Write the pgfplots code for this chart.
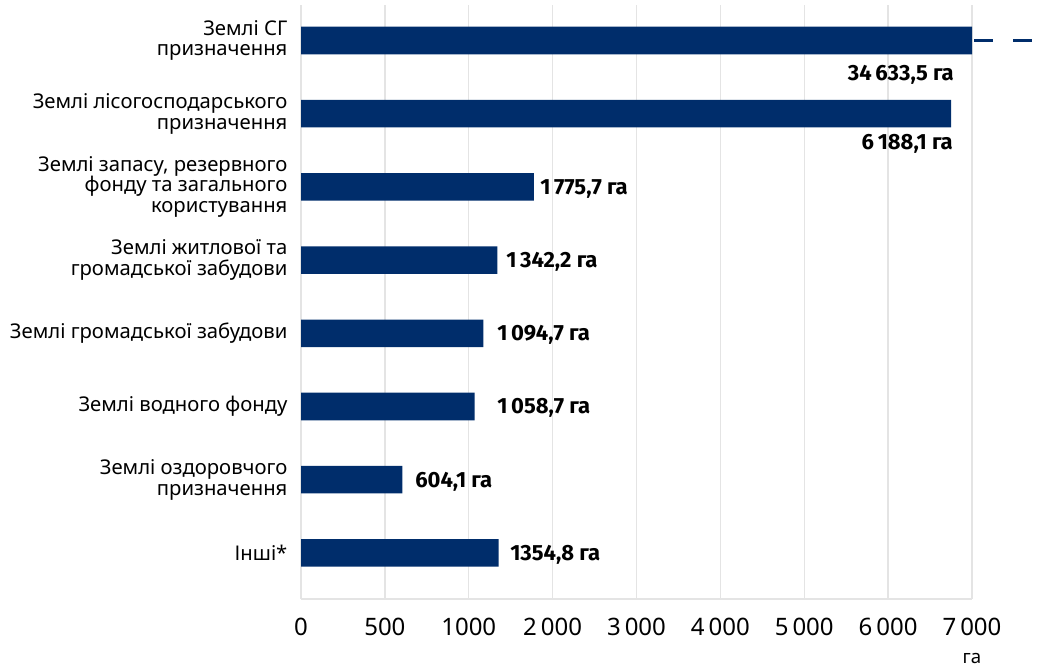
\documentclass[border=0pt]{standalone}
\usepackage{fontspec}
\setmainfont{Noto Sans}
\newfontfamily\vf{Fira Sans}
\usepackage{pgfplots}
\pgfplotsset{compat=1.18}
\definecolor{navy}{RGB}{0,45,107}
\definecolor{gridc}{RGB}{228,228,228}
\tikzset{vl/.style={font=\vf\bfseries\fontsize{16.5pt}{18pt}\selectfont, inner sep=0pt}}
\begin{document}
\begin{tikzpicture}
\useasboundingbox (0,0) rectangle (777.75pt,-500.25pt);
\begin{axis}[
  at={(225.75pt,-449.25pt)}, anchor=south west,
  scale only axis, width=503.25pt, height=445.5pt,
  xmin=0, xmax=7000, ymin=-0.63, ymax=7.485,
  x coord trafo/.code={\begingroup\pgfkeys{/pgf/fpu=true,/pgf/fpu/output format=fixed}\pgfmathparse{min(#1,1000)/500+max(#1-1000,0)/1000}\pgfmathsmuggle\pgfmathresult\endgroup},
  clip=true,
  axis x line*=bottom, axis y line*=left,
  axis line style={-, draw=gridc, line width=1.1pt},
  xmajorgrids, grid style={draw=gridc, line width=1.1pt},
  major tick length=0pt,
  xtick={0,500,1000,2000,3000,4000,5000,6000,7000},
  xticklabels={0,500,1000,2\,000,3\,000,4\,000,5\,000,6\,000,7\,000},
  xticklabel style={font=\fontsize{18pt}{20pt}\selectfont, anchor=base, inner sep=0pt, yshift=-27.5pt},
  ytick={0,1,2,3,4,5,6,7},
  yticklabels={{Інші*},{Землі оздоровчого\\призначення},{Землі водного фонду},{Землі громадської забудови},{Землі житлової та\\громадської забудови},{Землі запасу, резервного\\фонду та загального\\користування},{Землі лісогосподарського\\призначення},{Землі СГ\\призначення}},
  yticklabel style={font=\fontsize{15.2pt}{15.6pt}\selectfont, align=right, anchor=east, inner sep=0pt, xshift=-10pt},
]
\addplot[xbar, bar width=0.376, fill=navy, draw=none]
  coordinates {(34633.5,7) (6750,6) (1775.7,5) (1342.2,4) (1175,3) (1070,2) (604.1,1) (1354.8,0)};
\coordinate (sgend) at (axis cs:7000,7);
\coordinate (haunit) at (axis cs:7000,-0.63);
\node[vl, anchor=base east, xshift=489.75pt, yshift=-30pt] at (axis cs:0,7) {34\,633,5 га};
\node[vl, anchor=base east, xshift=489pt, yshift=-27.2pt] at (axis cs:0,6) {6\,188,1 га};
\node[vl, anchor=base west, xshift=179.25pt, yshift=-5.5pt] at (axis cs:0,5) {1\,775,7 га};
\node[vl, anchor=base west, xshift=153.75pt, yshift=-5.5pt] at (axis cs:0,4) {1\,342,2 га};
\node[vl, anchor=base west, xshift=147pt, yshift=-5.5pt] at (axis cs:0,3) {1\,094,7 га};
\node[vl, anchor=base west, xshift=147pt, yshift=-5.5pt] at (axis cs:0,2) {1\,058,7 га};
\node[vl, anchor=base west, xshift=85.5pt, yshift=-5.5pt] at (axis cs:0,1) {604,1 га};
\node[vl, anchor=base west, xshift=156.75pt, yshift=-5.5pt] at (axis cs:0,0) {1354,8 га};
\end{axis}
\draw[navy, line width=2.6pt] ([xshift=1.5pt]sgend) -- ++(14.25pt,0);
\draw[navy, line width=2.6pt] ([xshift=30.75pt]sgend) -- ++(14.25pt,0);
\node[font=\fontsize{14pt}{16pt}\selectfont, anchor=base, inner sep=0pt, yshift=-48pt] at (haunit) {га};
\end{tikzpicture}
\end{document}
